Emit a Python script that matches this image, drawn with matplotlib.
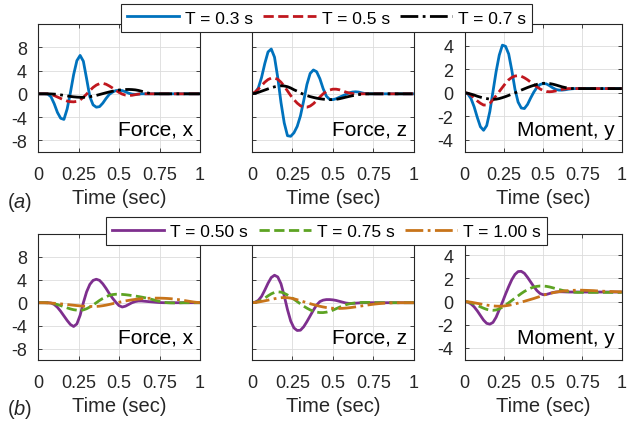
import numpy as np
import matplotlib
matplotlib.use("Agg")
import matplotlib.pyplot as plt

plt.rcParams['font.family'] = ['Liberation Sans', 'DejaVu Sans']
plt.rcParams['axes.unicode_minus'] = False
plt.rcParams['mathtext.fontset'] = 'custom'
plt.rcParams['mathtext.it'] = 'Liberation Sans:italic'
plt.rcParams['mathtext.rm'] = 'Liberation Sans'

# time samples (s)
t = np.linspace(0, 1, 51)

# (a) step responses for different transition times
labels_a = ["T = 0.3 s", "T = 0.5 s", "T = 0.7 s"]
fx_03 = [0, 0, 0, -0.05, -0.5, -1.7, -3.2, -4.2, -4.4, -2.6, 0.2, 3.3, 5.7, 6.6, 5.6, 2.6, -0.5,
         -1.9, -2.3, -2.2, -1.6, -0.8, -0.1, 0.3, 0.55, 0.6, 0.55, 0.35, 0.1, -0.05, -0.1, -0.05,
         0, 0, 0, 0, 0, 0, 0, 0, 0, 0, 0, 0, 0, 0, 0, 0, 0, 0, 0]
fx_05 = [0, 0, 0, 0, -0.1, -0.3, -0.55, -0.8, -1.05, -1.25, -1.35, -1.38, -1.3, -1.05, -0.6, -0.05,
         0.55, 1.1, 1.5, 1.75, 1.8, 1.65, 1.35, 1.0, 0.6, 0.25, -0.05, -0.22, -0.28, -0.25, -0.15,
         -0.05, 0, 0, 0, 0, 0, 0, 0, 0, 0, 0, 0, 0, 0, 0, 0, 0, 0, 0, 0]
fx_07 = [0, 0, 0, 0, -0.02, -0.05, -0.1, -0.18, -0.27, -0.36, -0.45, -0.52, -0.57, -0.6, -0.6, -0.57,
         -0.5, -0.4, -0.27, -0.12, 0.03, 0.18, 0.32, 0.45, 0.56, 0.65, 0.71, 0.74, 0.75, 0.73, 0.68,
         0.58, 0.44, 0.28, 0.13, 0.03, 0, 0, 0, 0, 0, 0, 0, 0, 0, 0, 0, 0, 0, 0, 0]
fz_03 = [0, 0.2, 1.0, 2.8, 5.2, 7.2, 7.7, 6.3, 2.8, -1.5, -5.0, -7.2, -7.3, -6.7, -5.6, -3.8, -1.2,
         1.6, 3.5, 4.1, 3.8, 2.6, 0.9, -0.4, -0.95, -1.0, -0.85, -0.6, -0.35, -0.1, 0.15, 0.3, 0.35,
         0.3, 0.15, 0.05, 0, 0, 0, 0, 0, 0, 0, 0, 0, 0, 0, 0, 0, 0, 0]
fz_05 = [0, 0.3, 0.8, 1.4, 2.0, 2.45, 2.7, 2.7, 2.5, 2.0, 1.3, 0.5, -0.3, -1.0, -1.6, -2.05, -2.3,
         -2.3, -2.1, -1.7, -1.15, -0.55, 0.0, 0.4, 0.65, 0.8, 0.8, 0.7, 0.5, 0.3, 0.15, 0.05,
         0, 0, 0, 0, 0, 0, 0, 0, 0, 0, 0, 0, 0, 0, 0, 0, 0, 0, 0]
fz_07 = [0, 0.1, 0.25, 0.45, 0.65, 0.85, 1.05, 1.2, 1.32, 1.38, 1.35, 1.22, 1.0, 0.7, 0.45, 0.15,
         -0.1, -0.3, -0.48, -0.62, -0.75, -0.85, -0.92, -0.97, -1.0, -1.0, -0.95, -0.85, -0.72,
         -0.58, -0.45, -0.33, -0.22, -0.13, -0.06, -0.02, 0, 0, 0, 0, 0, 0, 0, 0, 0, 0, 0, 0, 0, 0, 0]
my_03 = [0, -0.1, -0.5, -1.2, -2.1, -2.9, -3.2, -2.8, -1.6, 0.1, 1.8, 3.2, 4.05, 3.95, 3.3, 1.9,
         0.3, -0.8, -1.3, -1.35, -1.0, -0.45, 0.05, 0.45, 0.7, 0.78, 0.75, 0.6, 0.42, 0.28, 0.22,
         0.22, 0.25, 0.3, 0.33, 0.35, 0.35, 0.35, 0.35, 0.35, 0.35, 0.35, 0.35, 0.35, 0.35, 0.35,
         0.35, 0.35, 0.35, 0.35, 0.35]
my_05 = [0, -0.05, -0.2, -0.45, -0.7, -0.9, -1.05, -1.05, -0.9, -0.6, -0.25, 0.1, 0.45, 0.8, 1.1,
         1.3, 1.42, 1.45, 1.4, 1.27, 1.1, 0.9, 0.7, 0.5, 0.32, 0.18, 0.1, 0.08, 0.1, 0.15, 0.22,
         0.28, 0.32, 0.35, 0.35, 0.35, 0.35, 0.35, 0.35, 0.35, 0.35, 0.35, 0.35, 0.35, 0.35, 0.35,
         0.35, 0.35, 0.35, 0.35, 0.35]
my_07 = [0, -0.05, -0.12, -0.2, -0.3, -0.38, -0.45, -0.5, -0.55, -0.57, -0.55, -0.5, -0.42, -0.33,
         -0.23, -0.12, -0.02, 0.1, 0.22, 0.33, 0.44, 0.54, 0.63, 0.71, 0.77, 0.8, 0.8, 0.78, 0.73,
         0.66, 0.58, 0.5, 0.44, 0.39, 0.36, 0.35, 0.35, 0.35, 0.35, 0.35, 0.35, 0.35, 0.35, 0.35,
         0.35, 0.35, 0.35, 0.35, 0.35, 0.35, 0.35]

# (b) responses for the longer transition times
labels_b = ["T = 0.50 s", "T = 0.75 s", "T = 1.00 s"]
fx_050 = [0, 0, 0, 0, -0.05, -0.3, -0.8, -1.5, -2.3, -3.1, -3.8, -4.15, -3.7, -2.2, 0.0, 1.9, 3.2,
          3.9, 4.1, 3.9, 3.3, 2.5, 1.6, 0.8, 0.1, -0.5, -0.75, -0.6, -0.3, 0.0, 0.2, 0.3, 0.3, 0.25,
          0.2, 0.15, 0.1, 0.05, 0.02, 0, 0, 0, 0, 0, 0, 0, 0, 0, 0, 0, 0]
fx_075 = [0, 0, 0, -0.02, -0.08, -0.18, -0.32, -0.5, -0.7, -0.9, -1.08, -1.22, -1.3, -1.32, -1.25,
          -1.05, -0.75, -0.4, 0.0, 0.4, 0.75, 1.05, 1.28, 1.42, 1.48, 1.48, 1.45, 1.4, 1.33, 1.25,
          1.17, 1.08, 0.98, 0.87, 0.74, 0.6, 0.45, 0.3, 0.17, 0.06, 0.0, -0.03, -0.04, -0.03, -0.02,
          0, 0, 0, 0, 0, 0]
fx_100 = [0, 0, -0.01, -0.03, -0.06, -0.1, -0.15, -0.2, -0.26, -0.32, -0.38, -0.44, -0.5, -0.55,
          -0.6, -0.63, -0.65, -0.66, -0.65, -0.6, -0.52, -0.42, -0.3, -0.17, -0.04, 0.08, 0.2, 0.31,
          0.41, 0.5, 0.58, 0.64, 0.7, 0.74, 0.77, 0.79, 0.8, 0.8, 0.79, 0.77, 0.74, 0.7, 0.64, 0.57,
          0.49, 0.4, 0.31, 0.22, 0.13, 0.06, 0.02]
fz_050 = [0, 0.1, 0.4, 1.1, 2.2, 3.4, 4.4, 4.8, 4.5, 3.3, 1.2, -1.2, -3.2, -4.4, -4.85, -4.8, -4.2,
          -3.3, -2.3, -1.3, -0.4, 0.2, 0.45, 0.55, 0.55, 0.5, 0.4, 0.25, 0.1, -0.05, -0.12, -0.12,
          -0.08, -0.04, 0, 0, 0, 0, 0, 0, 0, 0, 0, 0, 0, 0, 0, 0, 0, 0, 0]
fz_075 = [0, 0.05, 0.2, 0.45, 0.8, 1.2, 1.55, 1.8, 1.9, 1.85, 1.65, 1.35, 1.0, 0.6, 0.2, -0.2, -0.6,
          -0.95, -1.25, -1.5, -1.65, -1.72, -1.72, -1.65, -1.5, -1.3, -1.05, -0.8, -0.55, -0.35, -0.2,
          -0.1, -0.05, 0, 0.05, 0.05, 0.05, 0.03, 0, 0, 0, 0, 0, 0, 0, 0, 0, 0, 0, 0, 0]
fz_100 = [0, 0.05, 0.12, 0.22, 0.33, 0.45, 0.58, 0.7, 0.8, 0.87, 0.9, 0.88, 0.8, 0.68, 0.52, 0.35,
          0.17, 0.0, -0.17, -0.33, -0.48, -0.62, -0.74, -0.84, -0.92, -0.97, -1.0, -1.0, -0.98, -0.94,
          -0.88, -0.81, -0.73, -0.64, -0.55, -0.46, -0.38, -0.3, -0.23, -0.17, -0.12, -0.08, -0.05,
          -0.03, -0.01, 0, 0, 0, 0, 0, 0]
my_050 = [0, -0.05, -0.2, -0.45, -0.8, -1.2, -1.6, -1.88, -1.95, -1.8, -1.35, -0.7, -0.05, 0.65, 1.3,
          1.9, 2.35, 2.6, 2.62, 2.45, 2.1, 1.7, 1.3, 0.95, 0.7, 0.6, 0.62, 0.7, 0.78, 0.83, 0.85, 0.85,
          0.84, 0.83, 0.83, 0.83, 0.83, 0.83, 0.83, 0.83, 0.83, 0.83, 0.83, 0.83, 0.83, 0.83, 0.83,
          0.83, 0.83, 0.83, 0.83]
my_075 = [0, -0.03, -0.1, -0.2, -0.32, -0.45, -0.57, -0.67, -0.73, -0.75, -0.72, -0.63, -0.48, -0.3,
          -0.1, 0.1, 0.3, 0.5, 0.7, 0.88, 1.03, 1.16, 1.26, 1.32, 1.35, 1.35, 1.32, 1.27, 1.2, 1.12,
          1.05, 0.98, 0.92, 0.87, 0.83, 0.81, 0.8, 0.8, 0.8, 0.8, 0.8, 0.8, 0.8, 0.8, 0.8, 0.8, 0.8,
          0.8, 0.8, 0.8, 0.8]
my_100 = [0, -0.02, -0.05, -0.1, -0.15, -0.2, -0.25, -0.3, -0.34, -0.37, -0.39, -0.4, -0.39, -0.36,
          -0.32, -0.26, -0.2, -0.13, -0.05, 0.03, 0.11, 0.19, 0.27, 0.36, 0.45, 0.55, 0.63, 0.7, 0.76,
          0.82, 0.86, 0.9, 0.93, 0.95, 0.97, 0.98, 0.99, 0.99, 0.98, 0.97, 0.96, 0.95, 0.93, 0.92,
          0.9, 0.89, 0.88, 0.87, 0.86, 0.85, 0.85]

panel_names = ["Force, x", "Force, z", "Moment, y"]
force_lim = (-10, 12)
moment_lim = (-5.05, 5.85)

colors_a = ["#0072BD", "#C0171E", "#000000"]
colors_b = ["#7E2F8E", "#5DA323", "#C8741A"]
styles = ["-", "--", "-."]

fig = plt.figure(figsize=(6.28, 4.31), dpi=100)
lefts = [0.0605, 0.401, 0.740]
widths = [0.258, 0.258, 0.250]


def style_axes(ax, ylim, yticks, show_labels):
    ax.set_xlim(0, 1)
    ax.set_ylim(*ylim)
    ax.set_xticks([0, 0.25, 0.5, 0.75, 1])
    ax.set_xticklabels(["0", "0.25", "0.5", "0.75", "1"])
    ax.set_yticks(yticks)
    if show_labels:
        ax.set_yticklabels([str(v) for v in yticks])
    else:
        ax.set_yticklabels([])
    ax.grid(True, color="#dcdcdc", lw=0.6)
    ax.set_axisbelow(True)
    ax.tick_params(direction="in", length=3, width=0.6, colors="#262626",
                   labelsize=13, top=True, right=True, pad=8)
    ax.tick_params(axis="x", pad=10)
    for s in ax.spines.values():
        s.set_color("#262626")
        s.set_linewidth(0.8)
    ax.set_xlabel("Time (sec)", fontsize=14.5, color="#262626", labelpad=4)


def draw_row(bottom, height, series, colors, labels):
    handles = []
    for k in range(3):
        ax = fig.add_axes([lefts[k], bottom, widths[k], height])
        if k < 2:
            style_axes(ax, force_lim, [-8, -4, 0, 4, 8], k == 0)
        else:
            style_axes(ax, moment_lim, [-4, -2, 0, 2, 4], True)
        for j in range(3):
            ln, = ax.plot(t, series[k][j], color=colors[j], ls=styles[j], lw=2.0)
            if k == 0:
                handles.append(ln)
        ax.text(0.955, 0.135, panel_names[k], transform=ax.transAxes, ha="right",
                va="baseline", fontsize=15, color="#000000")
    return handles


h_a = draw_row(0.645, 0.297,
               [[fx_03, fx_05, fx_07], [fz_03, fz_05, fz_07], [my_03, my_05, my_07]],
               colors_a, labels_a)
h_b = draw_row(0.1624, 0.2924,
               [[fx_050, fx_075, fx_100], [fz_050, fz_075, fz_100], [my_050, my_075, my_100]],
               colors_b, labels_b)

for h, labs, y in [(h_a, labels_a, 0.956), (h_b, labels_b, 0.4617)]:
    leg = fig.legend(h, labs, loc="center", bbox_to_anchor=(0.52, y), ncol=3,
                     fancybox=False, edgecolor="#262626", framealpha=1, fontsize=12.5,
                     handlelength=3.0, handletextpad=0.35, columnspacing=0.6, borderpad=0.35)
    leg.get_frame().set_linewidth(0.8)

fig.text(0.032, 0.531, r"($\it{a}$)", fontsize=14.5, ha="center", va="center", color="#262626")
fig.text(0.032, 0.049, r"($\it{b}$)", fontsize=14.5, ha="center", va="center", color="#262626")

fig.savefig("out.png", dpi=100)
